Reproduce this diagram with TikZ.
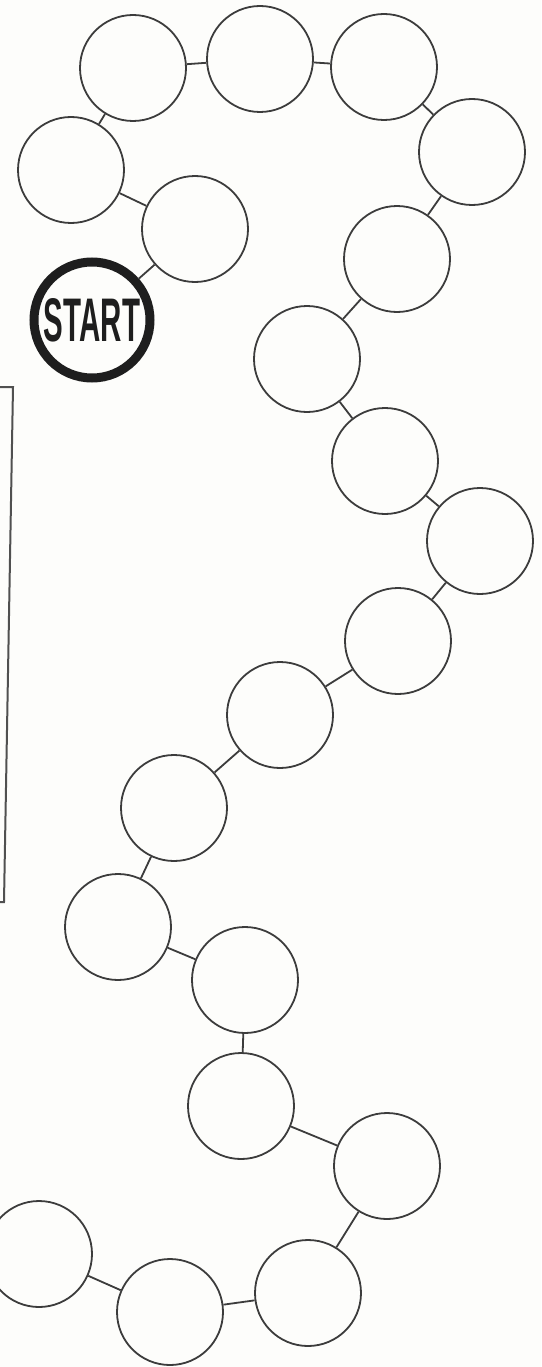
\documentclass[tikz,border=0pt]{standalone}
\usepackage{fontspec}
\setmainfont{Liberation Sans}
\definecolor{ink}{HTML}{3C3C3C}
\definecolor{darkink}{HTML}{1E1E1E}
\definecolor{paper}{HTML}{FDFDFB}
\begin{document}
\begin{tikzpicture}[x=1pt,y=-1pt,
  space/.style={circle,draw=ink,line width=1.8pt,minimum size=106pt,inner sep=0pt},
  startspace/.style={circle,draw=darkink,line width=9pt,minimum size=116pt,inner sep=0pt,text=darkink},
  link/.style={draw=ink,line width=1.8pt},
  frame/.style={draw=ink!90,line width=2pt}]
\useasboundingbox (0,0) rectangle (541,1367);
\clip (0,0) rectangle (541,1367);
\fill[paper] (0,0) rectangle (541,1367);
% spaces
\node[startspace] (s) at (92,320) {\resizebox{96pt}{43pt}{\bfseries START}};
\node[space] (c6)  at (195,229) {};
\node[space] (c5)  at (71,170) {};
\node[space] (c1)  at (133,68) {};
\node[space] (c2)  at (260,59) {};
\node[space] (c3)  at (384,67) {};
\node[space] (c4)  at (472,152) {};
\node[space] (c7)  at (397,259) {};
\node[space] (c8)  at (307,359) {};
\node[space] (c9)  at (385,461) {};
\node[space] (c10) at (480,541) {};
\node[space] (c11) at (398,641) {};
\node[space] (c12) at (280,715) {};
\node[space] (c13) at (174,808) {};
\node[space] (c14) at (118,927) {};
\node[space] (c15) at (245,980) {};
\node[space] (c16) at (241,1106) {};
\node[space] (c17) at (387,1166) {};
\node[space] (c18) at (308,1293) {};
\node[space] (c19) at (170,1312) {};
\node[space] (c20) at (39,1254) {};
% links
\foreach \a/\b in {s/c6,c6/c5,c5/c1,c1/c2,c2/c3,c3/c4,c4/c7,c7/c8,c8/c9,c9/c10,c10/c11,c11/c12,c12/c13,c13/c14,c14/c15,c15/c16,c16/c17,c17/c18,c18/c19,c19/c20}
  \path[link] (\a) -- (\b);
% left frame
\coordinate (ft0) at (0,387);
\coordinate (ft1) at (13,387);
\coordinate (fb1) at (4,902);
\coordinate (fb0) at (0,902);
\path[frame] (ft0) -- (ft1) -- (fb1) -- (fb0);
\end{tikzpicture}
\end{document}
